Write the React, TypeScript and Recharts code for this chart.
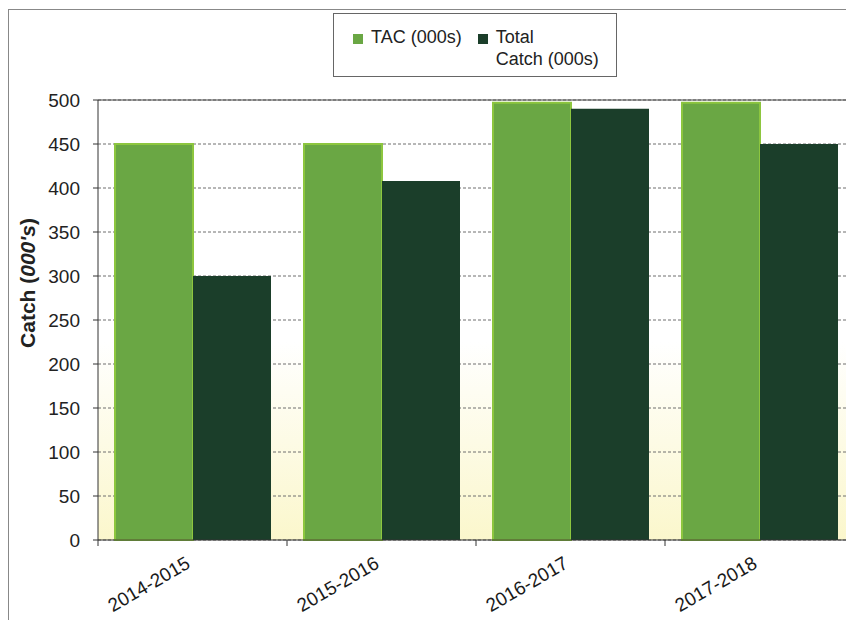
import React from 'react'
import { BarChart, Bar, XAxis, YAxis, CartesianGrid, ReferenceLine } from 'recharts'

const seasons = ['2014-2015', '2015-2016', '2016-2017', '2017-2018']
const tacValues = [450, 450, 497, 497]
const catchValues = [300, 408, 490, 450]
const yTicks = [0, 50, 100, 150, 200, 250, 300, 350, 400, 450, 500]
const seriesNames = ['TAC (000s)', 'Total\nCatch (000s)']
const seriesColors = ['#6aa744', '#1b3e2a']

const FONT = '"Liberation Sans", Arial, sans-serif'

const data = seasons.map((season, i) => ({
    season,
    tac: tacValues[i],
    totalCatch: catchValues[i],
}))

// label under each category, plus Excel-style tick marks on the category edges
function SeasonTick({ x, y, payload, width, visibleTicksCount, index }: any) {
    const half = width / visibleTicksCount / 2
    const tx = x - 1
    const ty = y + 27
    return (
        <g>
            <line x1={x - half} y1={y} x2={x - half} y2={y + 6} stroke="#333" />
            {index === visibleTicksCount - 1 && (
                <line x1={x + half} y1={y} x2={x + half} y2={y + 6} stroke="#333" />
            )}
            <text
                x={tx}
                y={ty}
                transform={`rotate(-30, ${tx}, ${ty})`}
                textAnchor="end"
                fontSize={19}
                fontFamily={FONT}
                fill="#1a1a1a"
            >
                {payload.value}
            </text>
        </g>
    )
}

function YTitle({ viewBox }: any) {
    const x = viewBox.x + 35
    const y = viewBox.y + 183
    return (
        <text
            x={x}
            y={y}
            transform={`rotate(-90, ${x}, ${y})`}
            textAnchor="middle"
            fontSize={21}
            fontWeight="bold"
            fontFamily={FONT}
            fill="#222"
        >
            Catch (<tspan fontStyle="italic">000's</tspan>)
        </text>
    )
}

export default function App() {
    return (
        <div style={{ position: 'absolute', left: 0, top: 0, width: 846, height: 620, overflow: 'hidden', background: '#fff' }}>
            <svg width={0} height={0} style={{ position: 'absolute' }}>
                <defs>
                    <linearGradient id="plotBg" x1="0" y1="0" x2="0" y2="1">
                        <stop offset="0%" stopColor="#ffffff" />
                        <stop offset="55%" stopColor="#ffffff" />
                        <stop offset="100%" stopColor="#fbf7cc" />
                    </linearGradient>
                </defs>
            </svg>

            {/* outer frame */}
            <div style={{ position: 'absolute', left: 8, top: 9, width: 1000, height: 1000, border: '1px solid #888' }} />

            <div style={{ position: 'absolute', left: 0, top: 0 }}>
                <BarChart
                    width={860}
                    height={620}
                    data={data}
                    margin={{ top: 100, right: 6, left: 0, bottom: 20 }}
                    barCategoryGap={17}
                    barGap={0}
                >
                    <CartesianGrid
                        vertical={false}
                        stroke="#6f6f6f"
                        strokeDasharray="3 2"
                        fill="url(#plotBg)"
                    />
                    <XAxis
                        dataKey="season"
                        height={60}
                        tickLine={false}
                        tickSize={0}
                        tickMargin={0}
                        axisLine={{ stroke: '#333' }}
                        tick={<SeasonTick />}
                        interval={0}
                    />
                    <YAxis
                        width={98}
                        domain={[0, 500]}
                        ticks={yTicks}
                        tickSize={5}
                        tickMargin={13}
                        axisLine={{ stroke: '#333' }}
                        tickLine={{ stroke: '#333' }}
                        tick={{ fontSize: 19, fill: '#222', fontFamily: FONT }}
                        label={<YTitle />}
                    />
                    <ReferenceLine y={500} stroke="#444" />
                    <Bar
                        dataKey="tac"
                        name={seriesNames[0]}
                        fill={seriesColors[0]}
                        stroke="#8dc63f"
                        strokeWidth={2}
                        isAnimationActive={false}
                    />
                    <Bar
                        dataKey="totalCatch"
                        name={seriesNames[1]}
                        fill={seriesColors[1]}
                        isAnimationActive={false}
                    />
                </BarChart>
            </div>

            {/* Legend */}
            <div
                style={{
                    position: 'absolute',
                    left: 333,
                    top: 13,
                    width: 284,
                    height: 64,
                    border: '1px solid #666',
                    background: '#fff',
                    boxSizing: 'border-box',
                    display: 'flex',
                    paddingLeft: 19,
                    paddingTop: 12,
                    gap: 16,
                    fontFamily: FONT,
                    fontSize: 18,
                    lineHeight: '22px',
                    color: '#222',
                }}
            >
                {seriesNames.map((name, i) => (
                    <div key={i} style={{ display: 'flex', alignItems: 'flex-start' }}>
                        <span
                            style={{
                                width: 10,
                                height: 10,
                                marginTop: 8,
                                marginRight: 8,
                                background: seriesColors[i],
                                flexShrink: 0,
                            }}
                        />
                        <span style={{ whiteSpace: 'pre-line' }}>{name}</span>
                    </div>
                ))}
            </div>
        </div>
    )
}
